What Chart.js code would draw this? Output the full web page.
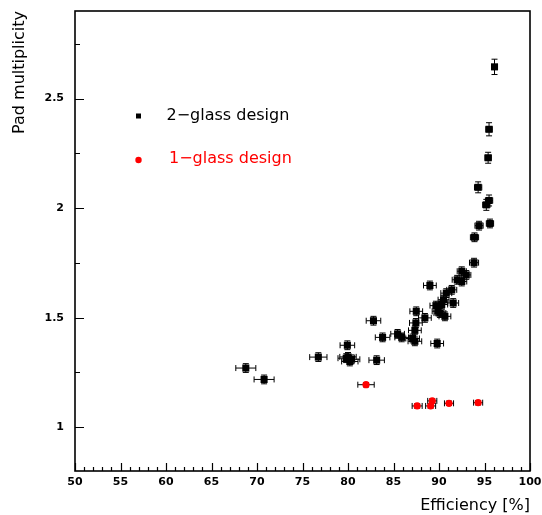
<!DOCTYPE html>
<html>
<head>
<meta charset="utf-8">
<script src="https://cdn.jsdelivr.net/npm/chart.js@4.4.1/dist/chart.umd.min.js"></script>
<style>
html,body{margin:0;padding:0;background:#fff;}
#wrap{width:542px;height:515px;}
</style>
</head>
<body>
<div id="wrap"><canvas id="c" width="542" height="515"></canvas></div>
<script>
// ---- data ----
const seriesLabels = ['2\u2212glass design', '1\u2212glass design'];

const twoGlassEff = [96.1, 95.5, 95.4, 94.3, 95.5, 95.2, 95.6, 94.4, 93.9, 93.85,
  92.5, 93.0, 92.0, 92.5, 89.0, 91.4, 90.8, 90.5, 91.56, 89.66,
  90.3, 89.9, 90.1, 90.65, 87.5, 88.45, 87.46, 87.35, 85.9, 87.1,
  87.35, 89.8, 85.45, 83.8, 82.8, 79.93, 80.0, 80.2, 80.4, 79.8,
  83.15, 76.74, 68.77, 70.78];
const twoGlassMult = [2.645, 2.36, 2.23, 2.095, 2.035, 2.015, 1.93, 1.92, 1.867, 1.751,
  1.712, 1.695, 1.673, 1.665, 1.647, 1.627, 1.612, 1.582, 1.567, 1.555,
  1.56, 1.529, 1.521, 1.506, 1.529, 1.499, 1.476, 1.442, 1.41, 1.405,
  1.392, 1.382, 1.426, 1.41, 1.486, 1.374, 1.321, 1.30, 1.31, 1.315,
  1.306, 1.32, 1.27, 1.218];
const twoGlassEffErr = [0.3, 0.35, 0.35, 0.4, 0.4, 0.4, 0.4, 0.45, 0.45, 0.5,
  0.5, 0.5, 0.55, 0.55, 0.7, 0.55, 0.6, 0.6, 0.6, 0.65,
  0.65, 0.65, 0.65, 0.65, 0.7, 0.7, 0.7, 0.7, 0.75, 0.75,
  0.75, 0.7, 0.75, 0.8, 0.8, 0.8, 0.9, 0.9, 0.9, 0.9,
  0.85, 0.95, 1.1, 1.1];
const twoGlassMultErr = [0.035, 0.03, 0.025, 0.025, 0.025, 0.025, 0.02, 0.02, 0.02, 0.02,
  0.02, 0.02, 0.02, 0.02, 0.02, 0.02, 0.02, 0.02, 0.02, 0.02,
  0.02, 0.02, 0.02, 0.02, 0.02, 0.02, 0.02, 0.02, 0.02, 0.02,
  0.02, 0.02, 0.02, 0.02, 0.02, 0.02, 0.02, 0.02, 0.02, 0.02,
  0.02, 0.02, 0.02, 0.02];

const oneGlassEff = [81.98, 87.6, 89.08, 89.26, 91.1, 94.3];
const oneGlassMult = [1.194, 1.097, 1.097, 1.12, 1.109, 1.112];
const oneGlassEffErr = [0.9, 0.55, 0.55, 0.5, 0.5, 0.5];
const oneGlassMultErr = [0.01, 0.01, 0.01, 0.01, 0.01, 0.01];

const xTickValues = [50, 55, 60, 65, 70, 75, 80, 85, 90, 95, 100];
const yTickValues = [1, 1.5, 2, 2.5];
const xRange = [50, 100];
const yRange = [0.8, 2.9];
const xMinorStep = 1;
const yMinorStep = 0.25;

// ---- helpers ----
const FONT = 'DejaVu Sans';
function toPoints(xs, ys, exs, eys) {
  return xs.map((x, i) => ({ x: x, y: ys[i], ex: exs[i], ey: eys[i] }));
}

const errorBarPlugin = {
  id: 'errorBars',
  beforeDatasetsDraw(chart) {
    const ctx = chart.ctx;
    const xs = chart.scales.x, ys = chart.scales.y;
    const cap = 3;
    ctx.save();
    ctx.strokeStyle = '#000';
    ctx.lineWidth = 1;
    chart.data.datasets.forEach(ds => {
      ds.data.forEach(p => {
        const cx = xs.getPixelForValue(p.x), cy = ys.getPixelForValue(p.y);
        const x0 = xs.getPixelForValue(p.x - p.ex), x1 = xs.getPixelForValue(p.x + p.ex);
        const y0 = ys.getPixelForValue(p.y - p.ey), y1 = ys.getPixelForValue(p.y + p.ey);
        ctx.beginPath();
        ctx.moveTo(x0, cy); ctx.lineTo(x1, cy);
        ctx.moveTo(x0, cy - cap); ctx.lineTo(x0, cy + cap);
        ctx.moveTo(x1, cy - cap); ctx.lineTo(x1, cy + cap);
        ctx.moveTo(cx, y0); ctx.lineTo(cx, y1);
        ctx.moveTo(cx - cap, y0); ctx.lineTo(cx + cap, y0);
        ctx.moveTo(cx - cap, y1); ctx.lineTo(cx + cap, y1);
        ctx.stroke();
      });
    });
    ctx.restore();
  }
};

const framePlugin = {
  id: 'frame',
  afterDraw(chart) {
    const ctx = chart.ctx;
    const a = chart.chartArea;
    const xs = chart.scales.x, ys = chart.scales.y;
    ctx.save();
    ctx.strokeStyle = '#000';
    ctx.lineWidth = 1.6;
    ctx.strokeRect(a.left, a.top, a.right - a.left, a.bottom - a.top);
    ctx.lineWidth = 1.2;
    ctx.beginPath();
    // x ticks (inward)
    for (let v = xRange[0]; v <= xRange[1] + 1e-9; v += xMinorStep) {
      const px = Math.round(xs.getPixelForValue(v)) + 0.5;
      const major = Math.abs(v / 5 - Math.round(v / 5)) < 1e-6;
      const len = major ? 8 : 4;
      ctx.moveTo(px, a.bottom); ctx.lineTo(px, a.bottom - len);
    }
    // y ticks (inward)
    for (let v = 0.75; v <= yRange[1] + 1e-9; v += yMinorStep) {
      if (v < yRange[0]) continue;
      const py = Math.round(ys.getPixelForValue(v)) + 0.5;
      const major = Math.abs(v / 0.5 - Math.round(v / 0.5)) < 1e-6;
      const len = major ? 9 : 5;
      ctx.moveTo(a.left, py); ctx.lineTo(a.left + len, py);
    }
    ctx.stroke();

    // legend inside plot
    const items = chart.data.datasets;
    const lx = 138.5, ly = [116, 159];
    ctx.font = '16px "' + FONT + '"';
    ctx.textBaseline = 'middle';
    ctx.textAlign = 'left';
    items.forEach((ds, i) => {
      ctx.fillStyle = ds.backgroundColor;
      if (ds.pointStyle === 'rect') {
        ctx.fillRect(lx - 2.5, ly[i] - 2.5, 5, 5);
      } else {
        ctx.beginPath();
        ctx.arc(lx, ly[i] + 1, 3.2, 0, Math.PI * 2);
        ctx.fill();
      }
      ctx.fillText(ds.label, i === 0 ? 166.5 : 169, ly[i]);
    });
    ctx.restore();
  }
};

new Chart(document.getElementById('c'), {
  type: 'scatter',
  data: {
    datasets: [
      {
        label: seriesLabels[0],
        data: toPoints(twoGlassEff, twoGlassMult, twoGlassEffErr, twoGlassMultErr),
        pointStyle: 'rect',
        pointRadius: 5,
        backgroundColor: '#000000',
        borderColor: '#000000',
        borderWidth: 0
      },
      {
        label: seriesLabels[1],
        data: toPoints(oneGlassEff, oneGlassMult, oneGlassEffErr, oneGlassMultErr),
        pointStyle: 'circle',
        pointRadius: 3.6,
        backgroundColor: '#ff0000',
        borderColor: '#ff0000',
        borderWidth: 0
      }
    ]
  },
  options: {
    responsive: false,
    animation: false,
    devicePixelRatio: 1,
    layout: { padding: { left: 0, top: 11, right: 12, bottom: 0 } },
    plugins: { legend: { display: false }, tooltip: { enabled: false } },
    scales: {
      x: {
        type: 'linear',
        min: xRange[0], max: xRange[1],
        afterBuildTicks: s => { s.ticks = xTickValues.map(v => ({ value: v })); },
        afterFit: s => { s.height = 44; s.paddingLeft = 0; s.paddingRight = 0; },
        grid: { display: false, drawTicks: false },
        border: { display: false },
        ticks: { color: '#000', font: { family: FONT, size: 11, weight: 'bold' }, padding: 5, maxRotation: 0, autoSkip: false },
        title: { display: true, text: 'Efficiency [%]', align: 'end', color: '#000',
                 font: { family: FONT, size: 16, lineHeight: 1.2 }, padding: { top: 0, bottom: 0 } }
      },
      y: {
        type: 'linear',
        min: yRange[0], max: yRange[1],
        afterBuildTicks: s => { s.ticks = yTickValues.map(v => ({ value: v })); },
        afterFit: s => { s.width = 75; s.paddingTop = 0; s.paddingBottom = 0; },
        grid: { display: false, drawTicks: false },
        border: { display: false },
        ticks: { color: '#000', font: { family: FONT, size: 11, weight: 'bold' }, padding: 11, autoSkip: false,
                 callback: v => String(v) },
        title: { display: true, text: 'Pad multiplicity', align: 'end', color: '#000',
                 font: { family: FONT, size: 16, lineHeight: 1.2 }, padding: { top: 10, bottom: 0 } }
      }
    }
  },
  plugins: [errorBarPlugin, framePlugin]
});
</script>
</body>
</html>
